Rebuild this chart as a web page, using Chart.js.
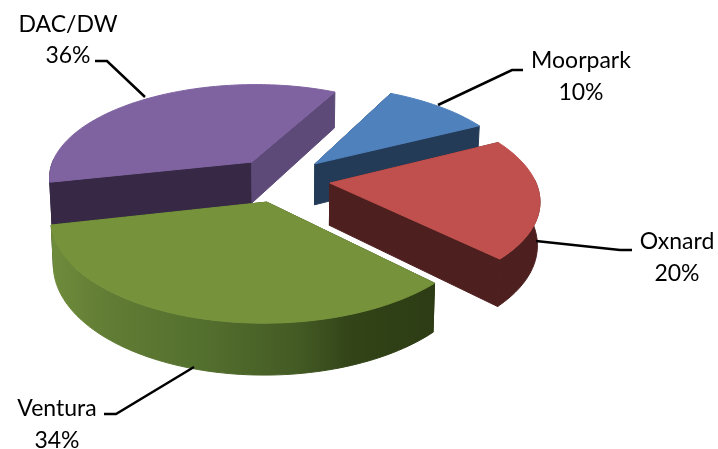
<!DOCTYPE html>
<html>
<head>
<meta charset="utf-8">
<script src="https://cdn.jsdelivr.net/npm/chart.js@4"></script>
<style>html,body{margin:0;padding:0;background:#fff}canvas{display:block}</style>
</head>
<body>
<canvas id="c" width="718" height="449"></canvas>
<script>
const categories = ['Moorpark', 'Oxnard', 'Ventura', 'DAC/DW'];
const shares = [10, 20, 34, 36];

const topColors = ['#4f81bd', '#c0504d', '#76933c', '#7f63a1'];
const startWallColors = ['#243b58', '#4e1f1f', '#2d3c14', '#372945'];
const endWallColors = ['#243b58', '#4e1f1f', '#2d3c14', '#5d4a78'];
const rimColors = ['#243b58', '#4e1f1f', null, '#372945'];
const rimStops = [[50, '#6f8c3c'], [110, '#617c34'], [200, '#54702e'], [300, '#435a24'], [350, '#324418'], [433, '#2d3c14']];

const VIEW = { x0: 281, y0: 179.5, a: 205, g: 94.5, c: 0.155, h: 42, narrow: 0.99 };
const LABEL_FONT = '23px Lato';
const labelSpots = [
  { x: 581, y: 61, lh: 32, line: [[438, 105], [512, 70], [523, 70]] },
  { x: 677, y: 242, lh: 32, line: [[536, 241], [620, 250], [632, 250]] },
  { x: 57, y: 409, lh: 32, line: [[194, 367], [116, 414], [104, 414]] },
  { x: 68, y: 25, lh: 31, line: [[145, 97], [107, 61], [95, 61]] }
];

function project(X, V, down) {
  const p = 1 / (1 - VIEW.c * V);
  return {
    x: VIEW.x0 + VIEW.a * X * p * (down ? VIEW.narrow : 1),
    y: VIEW.y0 + (VIEW.g * V + (down ? VIEW.h : 0)) * p
  };
}

function poly(ctx, pts, fill) {
  ctx.beginPath();
  pts.forEach((q, i) => i ? ctx.lineTo(q.x, q.y) : ctx.moveTo(q.x, q.y));
  ctx.closePath();
  ctx.fillStyle = fill;
  ctx.strokeStyle = fill;
  ctx.lineWidth = 1;
  ctx.fill();
  ctx.stroke();
}

const pie3d = {
  id: 'pie3d',
  beforeDatasetDraw(chart, args) {
    const ctx = chart.ctx;
    const arcs = args.meta.data;
    const items = arcs.map((arc, i) => {
      const s = arc.startAngle, e = arc.endAngle, m = (s + e) / 2;
      const d = arc.options.offset / 100;
      return { i, s, e, ox: d * Math.cos(m), ov: d * Math.sin(m) };
    }).sort((p, q) => p.ov - q.ov);

    ctx.save();
    for (const it of items) {
      const n = Math.max(8, Math.round((it.e - it.s) * 40));
      const rimXY = [];
      for (let k = 0; k <= n; k++) {
        const t = it.s + (it.e - it.s) * k / n;
        rimXY.push([it.ox + Math.cos(t), it.ov + Math.sin(t), Math.sin(t)]);
      }
      const up = rimXY.map(q => project(q[0], q[1], false));
      const dn = rimXY.map(q => project(q[0], q[1], true));
      const cu = project(it.ox, it.ov, false), cd = project(it.ox, it.ov, true);

      poly(ctx, [cu, up[0], dn[0], cd], startWallColors[it.i]);
      poly(ctx, [cu, up[n], dn[n], cd], endWallColors[it.i]);

      let rim = rimColors[it.i];
      if (!rim) {
        rim = ctx.createLinearGradient(50, 0, 433, 0);
        rimStops.forEach(st => rim.addColorStop((st[0] - 50) / 383, st[1]));
      }
      // only the part of the outer wall that faces the viewer is visible
      const front = rimXY.map((q, k) => k).filter(k => rimXY[k][2] > -0.05);
      if (front.length > 1) {
        poly(ctx, front.map(k => up[k]).concat(front.map(k => dn[k]).reverse()), rim);
      }
      poly(ctx, [cu].concat(up), arcs[it.i].options.backgroundColor);
    }
    ctx.restore();
    return false;
  },
  afterDraw(chart) {
    const ctx = chart.ctx;
    const total = shares.reduce((a, b) => a + b, 0);
    ctx.save();
    ctx.font = LABEL_FONT;
    ctx.textAlign = 'center';
    ctx.textBaseline = 'middle';
    categories.forEach((name, i) => {
      const spot = labelSpots[i];
      ctx.beginPath();
      spot.line.forEach((q, k) => k ? ctx.lineTo(q[0], q[1]) : ctx.moveTo(q[0], q[1]));
      ctx.strokeStyle = '#000';
      ctx.lineWidth = 2.5;
      ctx.stroke();
      ctx.fillStyle = '#000';
      ctx.fillText(name, spot.x, spot.y);
      ctx.fillText(Math.round(shares[i] / total * 100) + '%', spot.x, spot.y + spot.lh);
    });
    ctx.restore();
  }
};

new Chart(document.getElementById('c'), {
  type: 'pie',
  data: {
    labels: categories,
    datasets: [{ data: shares, backgroundColor: topColors, borderWidth: 0, offset: 24 }]
  },
  options: {
    responsive: false,
    animation: false,
    rotation: 27,
    plugins: { legend: { display: false }, title: { display: false } }
  },
  plugins: [pie3d]
});
</script>
</body>
</html>
